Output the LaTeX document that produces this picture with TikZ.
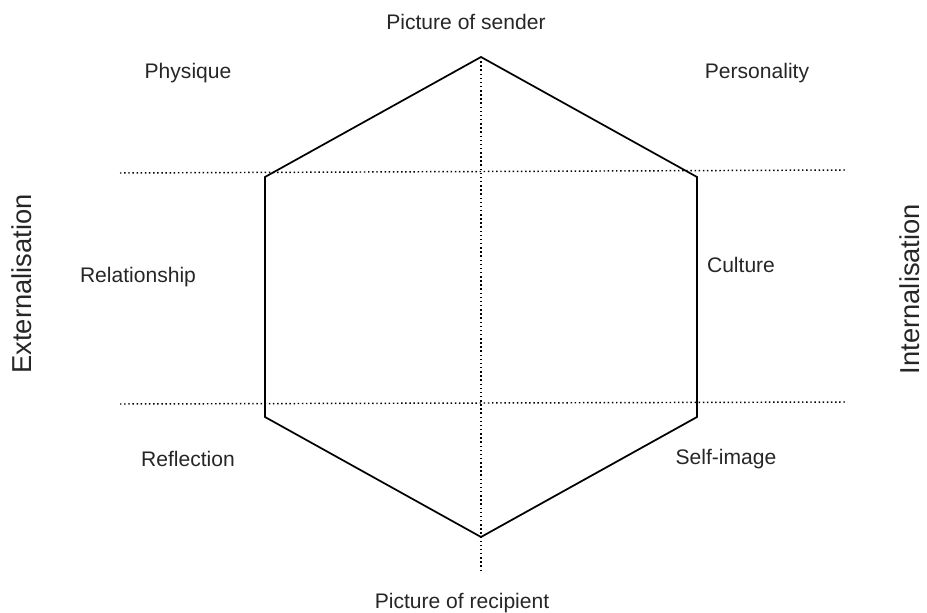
\documentclass[tikz,border=0pt]{standalone}
\usepackage{fontspec}
\setmainfont{Liberation Sans}
\begin{document}
\begin{tikzpicture}[x=0.75pt,y=-0.75pt,
  label/.style={font=\fontsize{15.8}{19}\selectfont, text=black!85, inner sep=0pt},
  axislabel/.style={font=\fontsize{20.5}{24}\selectfont, text=black!85, inner sep=0pt, rotate=90},
  guide/.style={dotted, line width=1.1pt},
  hexline/.style={line width=1.3pt, line join=miter}]
\useasboundingbox (0,0) rectangle (927,613);

% hexagon corners
\coordinate (T)  at (481,57);
\coordinate (UR) at (697,177);
\coordinate (LR) at (697,417);
\coordinate (B)  at (481,537);
\coordinate (LL) at (265,417);
\coordinate (UL) at (265,177);

% dotted guide lines
\coordinate (h1a) at (120,173);
\coordinate (h1b) at (845,170);
\coordinate (h2a) at (120,404);
\coordinate (h2b) at (845,402);
\coordinate (vend) at (481,571);
\draw[guide] (h1a) -- (h1b);
\draw[guide] (h2a) -- (h2b);
\draw[guide] (T) -- (vend);

% hexagon outline
\draw[hexline] (T) -- (UR) -- (LR) -- (B) -- (LL) -- (UL) -- cycle;

% labels
\node[label] (sender) at (466,22) {Picture of sender};
\node[label] (recipient) at (462,603) {Picture of recipient};
\node[label] (physique) at (188,73) {Physique};
\node[label] (personality) at (757,73) {Personality};
\node[label] (relationship) at (138,277) {Relationship};
\node[label] (culture) at (741,265) {Culture};
\node[label] (reflection) at (188,459) {Reflection};
\node[label] (selfimage) at (726,459) {Self-image};
\node[axislabel] (ext) at (22,284) {Externalisation};
\node[axislabel] (int) at (910,289) {Internalisation};
\end{tikzpicture}
\end{document}
